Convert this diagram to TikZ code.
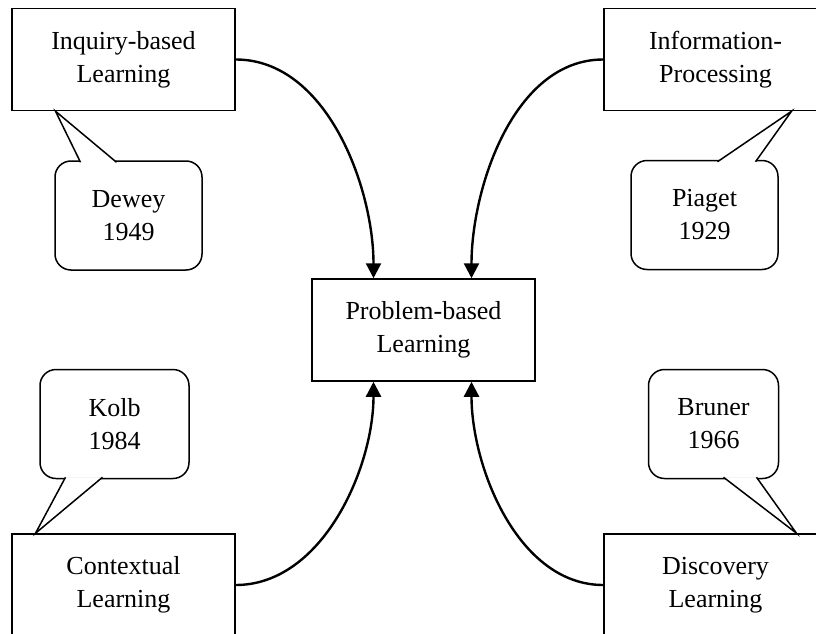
\documentclass[tikz,border=0pt]{standalone}
\usepackage{fontspec}
\setmainfont{Liberation Serif}
\usetikzlibrary{arrows.meta,calc}

\begin{document}
\begin{tikzpicture}[x=1pt,y=1pt,>={Triangle[width=15pt,length=15pt]},
 font=\fontsize{26}{33}\selectfont,
 box/.style={draw,line width=1.5pt,minimum width=223pt,minimum height=102pt,align=center,inner sep=0pt},
 bubble/.style={draw,line width=1.5pt,rounded corners=16pt,minimum height=109pt,align=center,inner sep=0pt},
 tail/.style={draw,fill=white,line width=1.5pt,line join=miter},
 link/.style={->,line width=2.4pt}]
\useasboundingbox (0,0) rectangle (816,-634);
\clip (0,0) rectangle (816,-634);
% theory boxes
\node[box] (pbl) at (423.5,-330) {Problem-based\\Learning};
\node[box] (inq) at (123.5,-59.5) {Inquiry-based\\Learning};
\node[box] (ipr) at (715.5,-59.5) {Information-\\Processing};
\node[box] (ctx) at (123.5,-585) {Contextual\\Learning};
\node[box] (dsc) at (715.5,-585) {Discovery\\Learning};
% callouts
\node[bubble,minimum width=147pt] (dewey) at (128.5,-215.5) {Dewey\\1949};
\node[bubble,minimum width=147pt] (piaget) at (704.5,-215) {Piaget\\1929};
\node[bubble,minimum width=149pt] (kolb) at (114.5,-424) {Kolb\\1984};
\node[bubble,minimum width=130pt] (bruner) at (713.5,-424) {Bruner\\1966};
\path[tail] ([xshift=-48pt,yshift=-2pt]dewey.north) -- ([xshift=-68pt]inq.south) -- ([xshift=-12pt,yshift=-2pt]dewey.north);
\path[tail] ([xshift=13pt,yshift=-2pt]piaget.north) -- ([xshift=76pt]ipr.south) -- ([xshift=51pt,yshift=-2pt]piaget.north);
\path[tail] ([xshift=-49pt,yshift=2pt]kolb.south) -- ([xshift=-88pt]ctx.north) -- ([xshift=-12pt,yshift=2pt]kolb.south);
\path[tail] ([xshift=10pt,yshift=2pt]bruner.south) -- ([xshift=81pt]dsc.north) -- ([xshift=43pt,yshift=2pt]bruner.south);
% arrows into the centre
\draw[link] (inq.east) to[out=0,in=90,looseness=0.9] ([xshift=-50pt]pbl.north);
\draw[link] (ipr.west) to[out=180,in=90,looseness=0.9] ([xshift=48pt]pbl.north);
\draw[link] (ctx.east) to[out=0,in=-90,looseness=0.9] ([xshift=-50pt]pbl.south);
\draw[link] (dsc.west) to[out=180,in=-90,looseness=0.9] ([xshift=48pt]pbl.south);
\end{tikzpicture}
\end{document}
